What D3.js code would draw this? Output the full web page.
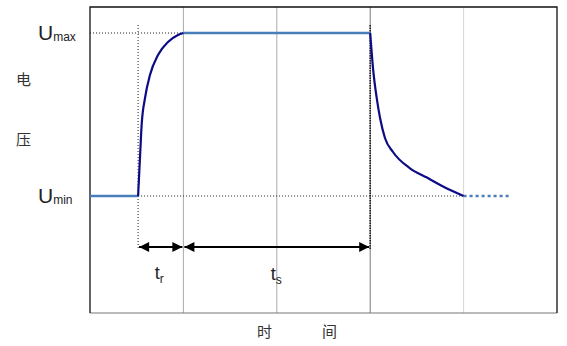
<!DOCTYPE html>
<html>
<head>
<meta charset="utf-8">
<script src="https://cdn.jsdelivr.net/npm/d3@7"></script>
<style>
  body { margin: 0; background: #fff; }
  text { font-family: "Liberation Sans", Arial, sans-serif; fill: #222; }
  .cjk { font-family: "Noto Sans CJK SC", sans-serif; fill: #333; }
</style>
</head>
<body>
<svg id="chart" width="567" height="346"></svg>
<script>
// time in grid units (one unit per vertical grid line), voltage normalised 0 = Umin, 1 = Umax
var gridTimes = [1, 2, 3, 4];
var flatLow = [[0, 0], [0.515, 0]];
var riseCurve = [[0.515, 0], [0.535, 0.233], [0.553, 0.436], [0.589, 0.601], [0.642, 0.742], [0.728, 0.865], [0.835, 0.945], [0.942, 0.988], [1, 1]];
var flatHigh = [[1, 1], [3, 1]];
var fallCurve = [[3, 1], [3.03, 0.785], [3.07, 0.6], [3.105, 0.48], [3.158, 0.356], [3.244, 0.27], [3.426, 0.17], [3.608, 0.113], [3.78, 0.058], [4, 0]];
var tailDotted = [[4, 0], [4.5, 0]];
var spans = [{from: 0.515, to: 1, label: 'r'}, {from: 1, to: 3, label: 's'}];

var svg = d3.select('#chart');
var plotLeft = 90, plotRight = 557, plotTop = 7, plotBottom = 313;

var x = d3.scaleLinear().domain([0, 5]).range([plotLeft, plotRight]);
var y = d3.scaleLinear().domain([0, 1]).range([196, 33]);

// arrow-head markers
var defs = svg.append('defs');
['arrowEnd', 'arrowStart'].forEach(function(id) {
  defs.append('marker')
    .attr('id', id)
    .attr('viewBox', '0 -5 10 10')
    .attr('refX', id === 'arrowEnd' ? 10 : 0)
    .attr('refY', 0)
    .attr('markerWidth', 6)
    .attr('markerHeight', 5)
    .attr('markerUnits', 'strokeWidth')
    .attr('orient', 'auto')
    .append('path')
      .attr('d', id === 'arrowEnd' ? 'M0,-5 L10,0 L0,5 Z' : 'M10,-5 L0,0 L10,5 Z')
      .attr('fill', '#000');
});

// grid lines
svg.selectAll('.grid').data(gridTimes).enter().append('line')
  .attr('class', 'grid')
  .attr('x1', d => x(d)).attr('x2', d => x(d))
  .attr('y1', plotTop).attr('y2', plotBottom)
  .attr('stroke', d => d === 3 ? '#777' : (d === 4 ? '#d6d6d6' : '#aaa'))
  .attr('stroke-width', 1);

// frame
svg.append('line').attr('x1', plotLeft).attr('x2', plotRight).attr('y1', plotBottom).attr('y2', plotBottom)
  .attr('stroke', '#777').attr('stroke-width', 1.2);
svg.append('path')
  .attr('d', `M${plotLeft},${plotBottom} L${plotLeft},${plotTop} L${plotRight},${plotTop} L${plotRight},${plotBottom}`)
  .attr('fill', 'none').attr('stroke', '#111').attr('stroke-width', 1.3);

// dotted guide lines
var guides = [
  [[plotLeft, y(1)], [x(1), y(1)]],
  [[x(0.515), y(0)], [x(4), y(0)]],
  [[x(0.515), 25], [x(0.515), 250]]
];
svg.selectAll('.guide').data(guides).enter().append('line')
  .attr('class', 'guide')
  .attr('x1', d => d[0][0]).attr('y1', d => d[0][1])
  .attr('x2', d => d[1][0]).attr('y2', d => d[1][1])
  .attr('stroke', '#222').attr('stroke-width', 1)
  .attr('stroke-dasharray', '1,2');
svg.append('line')
  .attr('x1', x(3)).attr('x2', x(3)).attr('y1', 25).attr('y2', 250)
  .attr('stroke', '#222').attr('stroke-width', 1.6)
  .attr('stroke-dasharray', '1.5,1');

var line = d3.line().x(d => x(d[0])).y(d => y(d[1]));
var curve = d3.line().x(d => x(d[0])).y(d => y(d[1])).curve(d3.curveMonotoneX);

// flat parts in lighter blue
[flatLow, flatHigh].forEach(function(pts) {
  svg.append('path').attr('d', line(pts))
    .attr('fill', 'none').attr('stroke', '#4a7ebb').attr('stroke-width', 2.5);
});
svg.append('path').attr('d', line(tailDotted))
  .attr('fill', 'none').attr('stroke', '#4a7ebb').attr('stroke-width', 2.5)
  .attr('stroke-dasharray', '3,3');

// rise and fall curves
[riseCurve, fallCurve].forEach(function(pts) {
  svg.append('path').attr('d', curve(pts))
    .attr('fill', 'none').attr('stroke', '#0b0b86').attr('stroke-width', 2.2);
});

// time span arrows
var spanG = svg.selectAll('.span').data(spans).enter().append('g').attr('class', 'span');
spanG.append('line')
  .attr('x1', d => x(d.from) + 1).attr('x2', d => x(d.to) - 1)
  .attr('y1', 247).attr('y2', 247)
  .attr('stroke', '#000').attr('stroke-width', 2)
  .attr('marker-start', 'url(#arrowStart)')
  .attr('marker-end', 'url(#arrowEnd)');
var spanText = spanG.append('text')
  .attr('x', d => (x(d.from) + x(d.to)) / 2 - 6)
  .attr('y', d => d.label === 's' ? 280 : 279)
  .attr('font-size', 18);
spanText.append('tspan').text('t');
spanText.append('tspan').attr('font-size', 12).attr('dy', 4).text(d => d.label);

// voltage labels
[['max', 1], ['min', 0]].forEach(function(d) {
  var t = svg.append('text').attr('x', 38).attr('y', y(d[1]) + 7).attr('font-size', 21);
  t.append('tspan').text('U');
  t.append('tspan').attr('font-size', 12).attr('dy', 1).text(d[0]);
});

// axis titles
svg.append('text').attr('class', 'cjk').attr('x', 16).attr('y', 85).attr('font-size', 15).text('电');
svg.append('text').attr('class', 'cjk').attr('x', 16).attr('y', 145).attr('font-size', 15).text('压');
svg.append('text').attr('class', 'cjk').attr('x', 257).attr('y', 337).attr('font-size', 15).text('时');
svg.append('text').attr('class', 'cjk').attr('x', 322).attr('y', 337).attr('font-size', 15).text('间');
</script>
</body>
</html>
